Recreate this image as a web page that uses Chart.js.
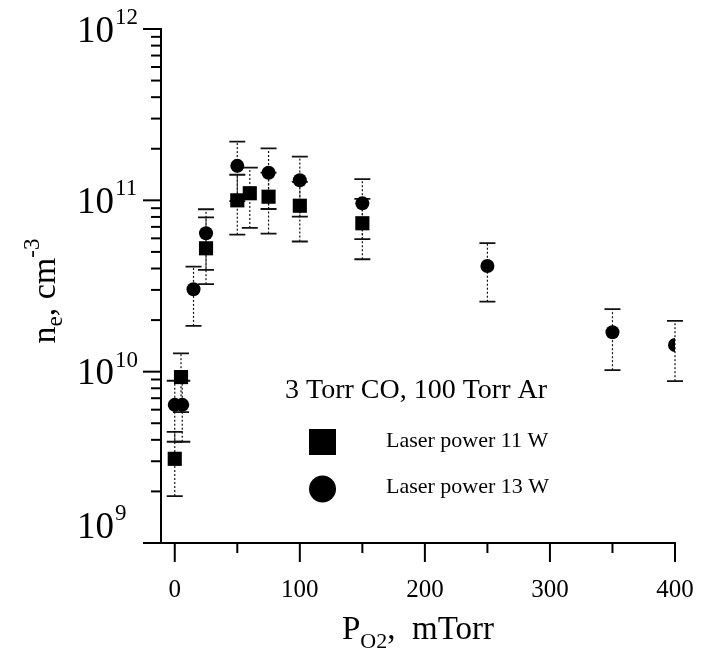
<!DOCTYPE html>
<html><head><meta charset="utf-8">
<script src="https://cdn.jsdelivr.net/npm/chart.js@4.4.0/dist/chart.umd.min.js"></script>
<style>html,body{margin:0;padding:0;background:#fff;}#wrap{width:702px;height:654px;position:relative;}</style>
</head><body><div id="wrap"><canvas id="c" width="702" height="654"></canvas></div>
<script>
// ---- data ----
const xMajorTicks = [0, 100, 200, 300, 400];
const xMinorTicks = [50, 150, 250, 350];
const yDecades = [9, 10, 11, 12];
const yMinorFactors = [2, 3, 4, 5, 6, 7, 8, 9];

const p11X  = [0, 5, 25, 50, 60, 75, 100, 150];
const p11Y  = [3.1e9, 9.3e9, 5.25e10, 1.0e11, 1.1e11, 1.05e11, 9.3e10, 7.35e10];
const p11Lo = [1.88e9, 5.8e9, 3.24e10, 6.3e10, 6.9e10, 6.4e10, 5.75e10, 4.53e10];
const p11Hi = [4.45e9, 1.28e10, 7.96e10, 1.41e11, 1.55e11, 1.45e11, 1.28e11, 1.02e11];

const p13X  = [0, 6, 15, 25, 50, 75, 100, 150, 250, 350, 400];
const p13Y  = [6.4e9, 6.4e9, 3.03e10, 6.43e10, 1.59e11, 1.45e11, 1.31e11, 9.6e10, 4.14e10, 1.70e10, 1.43e10];
const p13Lo = [3.9e9, 3.9e9, 1.85e10, 3.93e10, 9.9e10, 8.9e10, 8.04e10, 5.93e10, 2.56e10, 1.02e10, 8.8e9];
const p13Hi = [8.85e9, 8.85e9, 4.1e10, 8.87e10, 2.2e11, 2.01e11, 1.80e11, 1.33e11, 5.63e10, 2.32e10, 1.98e10];

const seriesLabels = ['Laser power 11 W', 'Laser power 13 W'];
const annotationText = '3 Torr CO, 100 Torr Ar';

const FONT = '"Liberation Serif", "DejaVu Serif", serif';

function pts(xs, ys) { return xs.map((x, i) => ({x: x, y: ys[i]})); }

const errorBars = {
  id: 'errorBars',
  beforeDatasetsDraw(chart) {
    const ctx = chart.ctx, xs = chart.scales.x, ys = chart.scales.y;
    const sets = [[p11X, p11Lo, p11Hi], [p13X, p13Lo, p13Hi]];
    ctx.save();
    ctx.strokeStyle = '#111';
    sets.forEach(([X, L, H]) => {
      X.forEach((xv, i) => {
        const px = xs.getPixelForValue(xv);
        const pl = ys.getPixelForValue(L[i]);
        const ph = ys.getPixelForValue(H[i]);
        ctx.setLineDash([2, 2]);
        ctx.lineWidth = 1.2;
        ctx.beginPath(); ctx.moveTo(px, pl); ctx.lineTo(px, ph); ctx.stroke();
        ctx.setLineDash([]);
        ctx.lineWidth = 1.8;
        ctx.beginPath();
        ctx.moveTo(px - 8, pl); ctx.lineTo(px + 8, pl);
        ctx.moveTo(px - 8, ph); ctx.lineTo(px + 8, ph);
        ctx.stroke();
      });
    });
    ctx.restore();
  }
};

const axesDecor = {
  id: 'axesDecor',
  afterDraw(chart) {
    const ctx = chart.ctx, xs = chart.scales.x, ys = chart.scales.y, a = chart.chartArea;
    ctx.save();
    ctx.strokeStyle = '#000';
    ctx.fillStyle = '#000';
    ctx.lineWidth = 2;
    // y ticks
    ys.ticks.forEach(t => {
      const py = ys.getPixelForValue(t.value);
      const major = Math.abs(Math.log10(t.value) - Math.round(Math.log10(t.value))) < 1e-6;
      const len = major ? 18 : 10;
      ctx.beginPath(); ctx.moveTo(a.left, py); ctx.lineTo(a.left - len, py); ctx.stroke();
    });
    // x ticks
    xs.ticks.forEach(t => {
      const px = xs.getPixelForValue(t.value);
      const major = xMajorTicks.includes(t.value);
      const len = major ? 19 : 10;
      ctx.beginPath(); ctx.moveTo(px, a.bottom); ctx.lineTo(px, a.bottom + len); ctx.stroke();
    });
    // y tick labels 10^n
    yDecades.forEach((d, i) => {
      let py = ys.getPixelForValue(Math.pow(10, d));
      if (i === 0) py -= 18;
      ctx.font = '37px ' + FONT;
      ctx.textAlign = 'right'; ctx.textBaseline = 'middle';
      const xr = 114;
      ctx.fillText('10', xr, py + 3);
      ctx.font = '23px ' + FONT;
      ctx.textAlign = 'left';
      ctx.fillText(String(d), xr + 1, py - 11);
    });
    // x tick labels
    ctx.font = '25px ' + FONT;
    ctx.textAlign = 'center'; ctx.textBaseline = 'alphabetic';
    xMajorTicks.forEach(v => {
      ctx.fillText(String(v), xs.getPixelForValue(v), 597);
    });
    // x title
    const cx = (a.left + a.right) / 2;
    const parts = [['P', '33px', 0], ['O2', '22px', 9], [',  mTorr', '33px', 0]];
    let tw = 0;
    parts.forEach(p => { ctx.font = p[1] + ' ' + FONT; tw += ctx.measureText(p[0]).width; });
    let x0 = cx - tw / 2;
    ctx.textAlign = 'left';
    parts.forEach(p => { ctx.font = p[1] + ' ' + FONT; ctx.fillText(p[0], x0, 639 + p[2]); x0 += ctx.measureText(p[0]).width; });
    // y title (rotated)
    ctx.save();
    ctx.translate(55, (a.top + a.bottom) / 2 + 5);
    ctx.rotate(-Math.PI / 2);
    const yparts = [['n', '34px', 0], ['e', '23px', 7], [', cm', '34px', 0], ['-3', '23px', -16]];
    tw = 0;
    yparts.forEach(p => { ctx.font = p[1] + ' ' + FONT; tw += ctx.measureText(p[0]).width; });
    x0 = -tw / 2;
    yparts.forEach(p => { ctx.font = p[1] + ' ' + FONT; ctx.fillText(p[0], x0, 0 + p[2]); x0 += ctx.measureText(p[0]).width; });
    ctx.restore();
    // annotation + legend
    ctx.font = '28px ' + FONT;
    ctx.fillText(annotationText, 285, 398);
    ctx.fillRect(309, 429, 27, 26);
    ctx.beginPath(); ctx.arc(322.5, 489, 13.5, 0, Math.PI * 2); ctx.fill();
    ctx.font = '22px ' + FONT;
    ctx.fillText(seriesLabels[0], 386, 447);
    ctx.fillText(seriesLabels[1], 386, 493);
    ctx.restore();
  }
};

new Chart(document.getElementById('c'), {
  type: 'scatter',
  data: {
    datasets: [
      {label: seriesLabels[0], data: pts(p11X, p11Y), pointStyle: 'rect', pointRadius: 10, pointHoverRadius: 10,
       backgroundColor: '#000', borderColor: '#000', borderWidth: 0},
      {label: seriesLabels[1], data: pts(p13X, p13Y), pointStyle: 'circle', pointRadius: 7, pointHoverRadius: 7,
       backgroundColor: '#000', borderColor: '#000', borderWidth: 0}
    ]
  },
  options: {
    responsive: false,
    animation: false,
    events: [],
    layout: {padding: {left: 161, right: 27, top: 29, bottom: 111}},
    plugins: {legend: {display: false}, tooltip: {enabled: false}},
    scales: {
      x: {
        type: 'linear', min: -11, max: 400,
        afterBuildTicks: s => { s.ticks = xMajorTicks.concat(xMinorTicks).map(v => ({value: v})); },
        afterFit: s => { s.height = 0; },
        ticks: {display: false},
        grid: {display: false},
        border: {display: true, color: '#000', width: 2}
      },
      y: {
        type: 'logarithmic', min: Math.pow(10, yDecades[0]), max: Math.pow(10, yDecades[yDecades.length - 1]),
        afterBuildTicks: s => {
          const t = [];
          yDecades.forEach((d, i) => {
            t.push({value: Math.pow(10, d)});
            if (i < yDecades.length - 1) yMinorFactors.forEach(f => t.push({value: f * Math.pow(10, d)}));
          });
          s.ticks = t;
        },
        afterFit: s => { s.width = 0; },
        ticks: {display: false},
        grid: {display: false},
        border: {display: true, color: '#000', width: 2}
      }
    }
  },
  plugins: [errorBars, axesDecor]
});
</script></body></html>
